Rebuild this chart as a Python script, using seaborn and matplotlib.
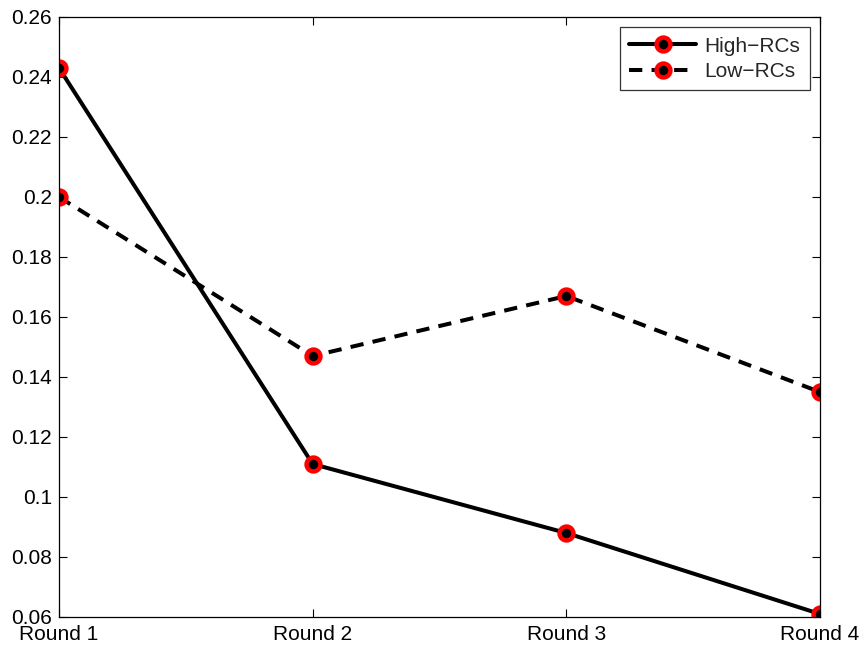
import matplotlib
matplotlib.use("Agg")
import matplotlib.pyplot as plt
import seaborn as sns
from matplotlib.ticker import FuncFormatter

# data
rounds = ["Round 1", "Round 2", "Round 3", "Round 4"]
high_rcs = [0.243, 0.111, 0.088, 0.061]
low_rcs = [0.200, 0.147, 0.167, 0.135]

sns.set_style("white")
plt.rcParams["font.family"] = ["Liberation Sans", "DejaVu Sans"]

fig = plt.figure(figsize=(8.64, 6.5), dpi=100)
ax = fig.add_axes([59 / 864, 33 / 650, (820 - 59) / 864, (617 - 17) / 650])

marker_kw = dict(marker="o", markersize=10, markerfacecolor="black",
                 markeredgecolor="red", markeredgewidth=3.2)

pos = list(range(len(rounds)))
sns.lineplot(x=pos, y=high_rcs, ax=ax, color="black", linewidth=2.9,
             label="High\u2212RCs", **marker_kw)
sns.lineplot(x=pos, y=low_rcs, ax=ax, color="black", linewidth=2.9,
             label="Low\u2212RCs", **marker_kw)
ax.lines[1].set_dashes((3.3, 2.3))

ax.set_xlim(0, 3)
ax.set_ylim(0.06, 0.26)
ax.set_xticks(pos)
ax.set_xticklabels(rounds)
ax.set_yticks([0.06 + 0.02 * i for i in range(11)])
ax.yaxis.set_major_formatter(FuncFormatter(lambda v, p: f"{v:g}"))

for s in ax.spines.values():
    s.set_visible(True)
    s.set_color("black")
    s.set_linewidth(0.9)

ax.tick_params(direction="in", length=6, width=0.8, colors="black",
               labelsize=15, top=True, right=True, left=True, bottom=True)
ax.tick_params(axis="x", pad=6)
ax.tick_params(axis="y", pad=5)
ax.set_xlabel("")
ax.set_ylabel("")
ax.grid(False)

leg = ax.legend(loc="upper right", fontsize=15, frameon=True, fancybox=False,
                handlelength=3.2, borderpad=0.45, labelspacing=0.3,
                handletextpad=0.4, borderaxespad=0.5)
leg.get_frame().set_edgecolor("black")
leg.get_frame().set_linewidth(0.9)
leg.get_lines()[1].set_dashes((3.3, 2.3))

fig.savefig("out.png", dpi=100)
